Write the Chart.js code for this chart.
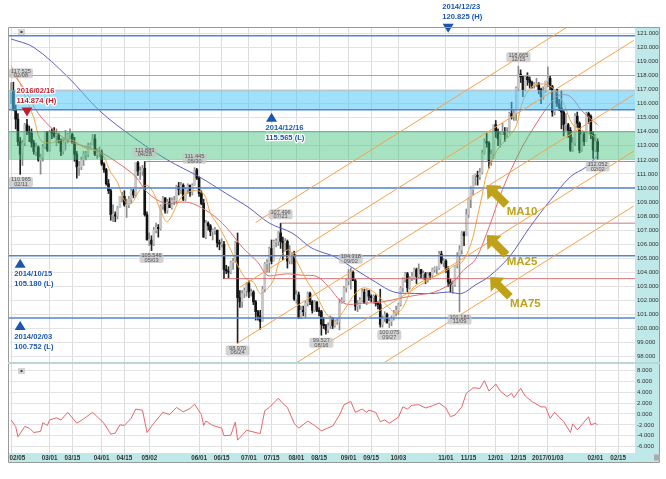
<!DOCTYPE html>
<html>
<head>
<meta charset="utf-8">
<script src="https://cdn.jsdelivr.net/npm/chart.js@4.4.0/dist/chart.umd.min.js"></script>
<style>
  html, body { margin:0; padding:0; background:#fff; }
  #wrap { position:relative; width:666px; height:479px; overflow:hidden; }
  #main { position:absolute; left:0; top:0; }
  #sub  { position:absolute; left:0; top:358px; }
</style>
</head>
<body>
<div id="wrap">
  <canvas id="main" width="666" height="369" style="width:666px;height:369px"></canvas>
  <canvas id="sub" width="666" height="121" style="width:666px;height:121px"></canvas>
</div>
<script>
/* USD/JPY daily candles 2016/02/05 - 2017/02/02, MA10/25/75, deviation panel
   - two stacked charts sharing the same category x axis
   - levels, channel lines and tags drawn by a small plugin from the scales
*/

// x categories: weekdays starting 2016-02-05 (260 candles + empty space on the right)
const SLOTS = 276;
const days = [];
for (let t = Date.UTC(2016, 1, 5); days.length < SLOTS; t += 864e5) {
  const wd = new Date(t).getUTCDay();
  if (wd === 0 || wd === 6) continue;
  days.push(new Date(t).toISOString().slice(0, 10));
}

// date gridlines / labels (index into days)
const tickIdx  = [0,17,27,40,50,61,83,93,105,115,126,136,149,159,171,192,202,214,224,237,258,268];
const tickText = ['02/05','03/01','03/15','04/01','04/15','05/02','06/01','06/15','07/01','07/15','08/01',
                  '08/15','09/01','09/15','10/03','11/01','11/15','12/01','12/15','2017/01/03','02/01','02/15'];
const priceTicks = [98,99,100,101,102,103,104,105,106,107,108,109,110,111,112,113,114,115,116,117,118,119,120,121];
const oscTicks = [-6,-4,-2,0,2,4,6,8];

// OHLC, one value per trading day (10 per row)
const opens = [
116.8,116.9,115.6,114.9,113.3,112.4,113.2,114.5,114.0,113.9,
113.2,112.6,112.9,112.0,112.2,112.9,114.0,112.7,114.0,113.9,
113.7,113.8,113.4,112.6,113.3,113.5,113.8,113.8,113.2,112.4,
111.5,111.5,112.0,112.4,112.4,113.0,113.0,113.5,112.4,112.5,
112.5,111.7,111.3,110.3,109.8,108.1,108.1,108.0,108.6,109.4,
109.4,108.8,108.8,109.2,109.8,109.5,111.8,111.2,111.2,111.4,
108.1,106.3,106.3,106.0,107.0,107.2,107.1,108.7,109.3,108.4,
109.0,108.6,109.1,109.1,110.1,109.9,110.2,109.2,109.9,110.2,
109.7,110.2,111.3,110.7,109.6,108.9,106.5,107.5,107.3,106.9,
107.0,107.0,106.1,106.0,106.0,104.2,104.1,104.0,104.7,104.8,
106.1,102.2,101.9,102.5,102.7,103.2,102.6,102.6,101.9,101.2,
100.9,100.5,102.8,104.6,104.7,105.7,104.8,106.2,106.2,106.8,
106.2,106.1,106.2,104.8,105.2,105.3,102.1,102.4,100.8,101.3,
101.2,101.8,102.5,101.9,101.3,101.9,101.3,101.2,100.3,100.2,
99.9,100.2,100.7,100.2,100.5,100.5,101.8,102.0,102.9,103.4,
103.5,104.0,103.4,101.6,101.7,102.0,102.6,101.8,102.7,102.3,
102.2,102.3,101.8,101.7,100.3,100.7,101.0,100.4,100.5,100.7,
101.1,101.3,101.7,102.9,103.5,103.9,102.9,103.6,103.6,104.2,
103.7,104.2,103.9,103.9,103.5,103.9,103.8,104.2,104.3,104.3,
105.3,104.7,104.8,104.2,103.3,103.1,103.1,104.5,105.2,105.6,
106.8,106.6,108.1,109.2,109.9,110.9,110.9,110.8,111.1,112.5,
113.3,113.2,111.9,112.4,114.5,114.0,113.5,113.8,114.0,113.8,
114.0,115.3,115.1,115.3,117.1,118.1,117.9,117.0,117.9,117.7,
117.5,117.3,117.4,117.4,117.0,116.5,116.9,117.6,117.8,117.2,
115.4,117.0,116.0,115.7,115.4,114.5,114.5,114.1,112.7,113.2,
115.1,114.6,112.7,113.8,113.3,115.3,115.1,113.8,112.7,113.3];
const highs = [
117.5,117.525,115.9,115.3,113.6,113.4,114.6,114.874,114.4,114.2,
113.4,113.2,113.0,112.4,113.1,114.0,114.0,114.1,114.2,114.3,
114.2,113.9,113.5,113.5,114.1,113.9,114.2,113.9,113.6,112.6,
111.9,112.2,112.6,112.6,113.2,113.2,113.8,113.8,112.8,112.9,
112.7,111.8,111.4,110.6,109.9,108.8,108.3,108.7,109.4,109.7,
109.8,109.2,109.4,109.9,109.9,111.8,111.9,111.5,111.6,111.883,
108.3,106.8,106.6,107.2,107.5,107.4,108.8,109.4,109.3,109.2,
109.3,109.3,109.4,110.2,110.4,110.4,110.3,110.0,110.3,110.2,
110.3,111.445,111.4,110.8,109.8,109.2,107.7,107.6,107.4,107.1,
107.2,107.0,106.3,106.4,106.2,104.5,104.4,104.8,105.0,106.2,
106.8,102.7,102.7,102.9,103.3,103.4,102.8,102.7,102.0,101.3,
101.3,103.0,104.7,104.9,105.8,106.3,106.3,106.4,106.9,107.496,
106.5,106.4,106.3,105.9,105.4,105.5,102.7,102.6,101.6,101.6,
102.0,102.6,102.6,102.0,102.0,101.9,101.5,101.3,100.8,100.3,
100.4,100.9,100.8,100.6,100.7,102.1,102.2,103.0,103.5,104.2,
104.318,104.1,103.5,102.0,102.2,102.8,102.8,102.8,102.7,102.4,
102.4,102.4,101.9,102.8,100.9,101.2,101.1,100.7,100.9,101.3,
101.6,101.8,103.0,103.6,104.0,104.0,103.7,104.0,104.3,104.3,
104.6,104.2,104.1,104.0,104.0,104.0,104.3,104.4,104.4,105.5,
105.5,105.0,104.9,104.4,103.5,103.4,104.5,105.4,105.9,106.9,
106.9,108.5,109.3,110.1,110.9,111.0,111.2,111.4,112.7,113.5,
113.9,113.3,112.7,114.5,114.8,114.2,114.0,114.6,114.3,114.3,
115.4,116.1,115.6,117.2,118.665,118.4,118.0,118.0,118.2,117.9,
117.6,117.5,117.8,117.5,117.1,117.2,117.6,118.6,118.0,117.3,
117.0,117.0,116.3,116.9,115.5,115.3,114.6,114.3,113.6,115.3,
115.4,114.7,114.0,114.0,115.4,115.4,115.2,114.0,113.8,113.5];
const lows = [
116.0,115.5,114.2,113.0,110.965,111.6,113.0,113.8,113.3,112.9,
112.4,112.3,111.9,110.98,111.9,112.8,112.6,112.6,113.5,113.6,
113.0,113.2,112.3,112.4,112.7,113.2,113.5,113.2,111.9,110.7,
110.9,111.3,111.6,112.0,112.2,112.9,113.0,112.3,112.1,112.2,
111.6,111.1,110.2,109.6,107.7,107.6,107.6,107.8,108.6,109.0,
108.7,107.9,108.6,108.9,109.3,109.4,110.9,110.6,110.9,108.0,
106.3,105.9,105.546,105.9,106.8,106.5,107.0,108.5,108.2,108.2,
108.6,108.5,108.8,108.9,109.5,109.6,109.1,109.1,109.6,109.4,
109.5,110.2,110.6,109.4,108.8,106.5,106.4,107.0,106.6,106.3,
106.7,105.8,105.6,105.8,103.55,103.9,103.6,103.9,104.2,104.7,
98.97,101.5,101.5,102.2,102.3,102.2,102.3,101.7,100.6,100.6,
99.95,100.5,102.6,104.0,104.0,104.6,104.8,105.8,105.9,105.7,
104.9,105.5,104.3,104.6,104.6,102.0,101.8,100.7,100.7,100.9,
100.8,101.6,101.7,101.1,101.2,101.2,100.9,99.527,100.0,99.6,
99.7,100.0,100.0,100.1,100.3,99.9,101.8,101.9,102.6,103.1,
102.8,103.4,101.3,101.2,101.4,101.9,101.8,101.7,102.0,101.9,
101.8,101.6,101.4,100.1,100.1,100.5,100.4,100.075,100.2,100.6,
100.9,101.0,101.6,102.6,103.3,102.6,102.8,103.4,103.5,103.2,
103.6,103.6,103.5,103.2,103.3,103.5,103.7,104.0,103.9,104.2,
104.6,104.4,104.0,103.0,102.6,102.5,103.0,104.3,101.181,105.3,
105.9,106.6,107.9,108.6,109.5,110.2,110.2,110.6,111.0,112.4,
112.9,111.4,111.6,112.1,113.6,113.0,112.9,113.8,113.3,113.6,
113.9,114.9,114.8,114.8,116.9,117.5,116.5,116.9,117.3,117.1,
117.1,117.1,117.2,116.7,116.0,116.3,116.8,117.2,117.0,115.1,
115.2,115.8,115.5,114.2,113.7,114.1,113.6,112.6,112.6,113.0,
114.3,112.5,112.6,113.0,113.3,114.6,113.5,112.1,112.6,112.052];
const closes = [
116.9,115.6,114.9,113.3,112.4,113.2,114.5,114.0,113.9,113.2,
112.6,112.9,112.0,112.2,112.9,114.0,112.7,114.0,113.9,113.7,
113.8,113.4,112.6,113.3,113.5,113.8,113.8,113.2,112.4,111.5,
111.5,112.0,112.4,112.4,113.0,113.0,113.5,112.4,112.5,112.5,
111.7,111.3,110.3,109.8,108.1,108.1,108.0,108.6,109.4,109.4,
108.8,108.8,109.2,109.8,109.5,111.8,111.2,111.2,111.4,108.1,
106.3,106.3,106.0,107.0,107.2,107.1,108.7,109.3,108.4,109.0,
108.6,109.1,109.1,110.1,109.9,110.2,109.2,109.9,110.2,109.7,
110.2,111.3,110.7,109.6,108.9,106.5,107.5,107.3,106.9,107.0,
107.0,106.1,106.0,106.0,104.2,104.1,104.0,104.7,104.8,106.1,
102.2,101.9,102.5,102.7,103.2,102.6,102.6,101.9,101.2,100.9,
100.5,102.8,104.6,104.7,105.7,104.8,106.2,106.2,106.8,106.2,
106.1,106.2,104.8,105.2,105.3,102.1,102.4,100.8,101.3,101.2,
101.8,102.5,101.9,101.3,101.9,101.3,101.2,100.3,100.2,99.9,
100.2,100.7,100.2,100.5,100.5,101.8,102.0,102.9,103.4,103.5,
104.0,103.4,101.6,101.7,102.0,102.6,101.8,102.7,102.3,102.2,
102.3,101.8,101.7,100.3,100.7,101.0,100.4,100.5,100.7,101.1,
101.3,101.7,102.9,103.5,103.9,102.9,103.6,103.7,104.2,103.7,
104.2,103.9,103.9,103.5,103.9,103.8,104.2,104.3,104.3,105.3,
104.7,104.8,104.2,103.3,103.1,103.1,104.5,105.2,105.6,106.8,
106.6,108.1,109.2,109.9,110.9,110.9,110.8,111.1,112.5,113.3,
113.2,111.9,112.4,114.5,114.0,113.5,113.8,114.0,113.8,114.0,
115.3,115.1,115.3,117.1,118.1,117.9,117.0,117.9,117.7,117.5,
117.3,117.4,117.4,117.0,116.5,116.9,117.6,117.8,117.2,115.4,
117.0,116.0,115.7,115.4,114.5,114.5,114.1,112.7,113.2,115.1,
114.6,112.7,113.8,113.3,115.3,115.1,113.8,112.7,113.3,112.6];

// moving averages (day index -> value)
const ma10Idx = [0,4,7,10,13,17,22,27,32,38,41,44,47,50,53,57,60,63,66,69,75,80,85,88,92,97,101,104,107,110,113,116,119,122,124,128,131,135,139,143,147,152,156,161,165,170,173,177,181,187,193,196,199,203,206,208,210,213,216,220,223,226,230,235,240,244,248,252,256,259];
const ma10    = [118.7,117.4,116.2,115.0,113.4,113.2,113.4,113.4,112.9,112.6,112.2,111.1,110.4,109.1,108.9,109.9,110.2,109.6,108.4,107.6,109.3,109.8,109.6,108.2,107.2,105.6,104.2,103.5,103.3,102.5,102.8,103.5,105.1,105.6,105.4,104.2,103.3,102.3,101.1,100.6,101.3,102.5,102.9,102.5,101.8,101.1,101.5,102.8,103.3,103.7,104.2,104.5,104.7,106.0,108.0,109.5,111.0,112.2,113.0,113.7,114.4,116.2,117.2,117.4,117.0,116.0,114.5,114.1,113.8,113.5];
const ma25Idx = [0,6,12,19,26,34,40,47,55,60,68,75,80,88,95,102,109,113,117,122,128,135,140,147,155,164,173,180,187,195,200,205,211,217,225,232,238,242,247,252,259];
const ma25    = [118.3,117.0,115.3,114.1,113.3,112.9,112.5,111.8,110.8,109.7,108.9,109.0,108.9,108.2,107.2,105.8,104.7,103.8,103.8,103.9,103.8,103.7,103.0,101.8,101.8,101.9,102.2,102.4,102.6,103.3,104.2,104.9,107.2,109.9,112.7,114.6,116.0,116.6,116.5,115.5,114.5];
const ma75Idx = [0,10,25,39,54,69,83,95,105,114,124,132,136,143,152,161,169,178,187,193,199,205,211,220,229,238,247,254,259];
const ma75    = [120.6,120.0,117.9,115.5,113.6,112.0,110.8,109.6,108.6,107.5,106.8,105.8,105.5,105.1,104.2,103.3,102.6,102.5,102.5,102.6,102.5,103.1,103.7,105.1,107.2,109.1,110.8,111.5,112.3];

// lower panel: deviation from MA25 (%)
const oscIdx  = [0,2,3,6,8,10,13,14,16,17,20,22,25,29,32,36,38,41,44,46,48,50,53,55,58,60,63,67,70,73,76,79,81,84,85,86,89,93,94,97,99,100,104,110,112,114,118,120,122,125,127,131,134,137,142,145,147,150,152,155,157,158,161,163,165,167,171,173,175,177,180,183,186,189,192,194,196,199,201,204,207,209,211,214,216,219,221,222,225,227,230,234,236,238,240,244,247,248,250,252,255,256,258,259];
const oscVals = [-1.1,-2.3,-4.2,-2.3,-2.6,-3.4,-3.2,-1.6,-2.1,-1.1,-0.7,-1.1,0.3,-1.7,-0.9,0.3,-0.5,-1.7,-3.7,-3.5,-2.0,-2.1,-0.8,0.9,0.7,-3.4,-1.7,0.3,-0.1,1.2,0.4,1.0,1.8,-0.1,-2.1,-1.3,-2.1,-2.6,-4.0,-3.9,-1.5,-4.8,-3.0,-3.6,0.6,1.2,2.9,1.9,1.2,-1.7,-2.6,-1.3,-2.1,-3.1,-2.2,-0.2,1.7,2.3,0.3,0.9,0.3,0.7,0.3,-1.4,-1.1,-1.7,-0.6,1.3,0.9,1.6,1.7,1.1,1.5,2.0,1.1,-0.5,-0.2,1.3,3.8,4.8,4.7,6.1,4.2,5.5,4.2,3.2,3.8,3.0,4.7,3.3,2.3,1.3,1.3,-0.8,0.3,-1.4,-3.4,-1.8,-2.9,-2.0,-0.5,-2.0,-1.7,-2.0];

// support / resistance levels
const blueLevels = [120.825, 115.565, 110.0, 105.180, 100.752];
const redLevels  = [111.883, 107.496, 103.55];
const redFrom    = [59, 119, 94];
const grayLevels = [118.0];
const blueBand   = [115.565, 116.92];
const greenBand  = [112.0, 114.0];

// parallel channel lines: start (day, price) -> end (day, price)
const chanFrom  = [108, 101, 100, 120, 160];
const chanFromP = [107.55, 102.94, 98.97, 96.96, 97.10];
const chanTo    = [275, 275, 275, 275, 275];
const chanToP   = [124.42, 120.50, 116.65, 112.62, 108.72];

// high / low tags
const tagIdx  = [1,4,59,62,81,100,119,137,150,167,198,224,259];
const tagVal  = [117.525,110.965,111.883,105.546,111.445,98.970,107.496,99.527,104.318,100.075,101.181,118.665,112.052];
const tagDate = ['02/08','02/11','04/28','05/03','05/30','06/24','07/21','08/16','09/02','09/27','11/09','12/15','02/02'];
const tagHigh = [true,false,true,false,true,false,true,false,true,false,false,true,false];

// historic markers
const markIdx  = [193, 7, 115, 4, 4];
const markVal  = [120.825, 114.874, 115.565, 105.180, 100.752];
const markDate = ['2014/12/23','2016/02/16','2014/12/16','2014/10/15','2014/02/03'];
const markHigh = [true, true, false, false, false];

// MA captions with arrows
const maLabels = ['MA10','MA25','MA75'];
const maArrIdx = [210, 210, 211.5];
const maArrVal = [110.21, 106.65, 103.67];

const STRIP = '#bfe8e8';
const GOLD = '#bfa21a';
Chart.defaults.font.family = 'Liberation Sans';
Chart.defaults.color = '#333';

function sparse(idx, vals) {
  const out = days.map(() => null);
  idx.forEach((k, j) => out[k] = vals[j]);
  return out;
}

const wickData = opens.map((o, i) => [lows[i], highs[i]]);
const bodyData = opens.map((o, i) => {
  const lo = Math.min(o, closes[i]), hi = Math.max(o, closes[i]);
  return hi - lo < 0.05 ? [lo - 0.025, hi + 0.025] : [lo, hi];
});
const isUp = i => closes[i] >= opens[i];

function xAxis(showLabels) {
  return {
    type: 'category', offset: true,
    grid: { color: '#dcdcdc', lineWidth: 1, offset: false, drawTicks: false },
    border: { display: false },
    ticks: {
      display: showLabels, autoSkip: false, maxRotation: 0, minRotation: 0, padding: 1.5,
      color: '#333', font: { size: 6.3, weight: 'bold' },
      // first label is drawn left-aligned by the plugin
      callback: v => v === tickIdx[0] ? '' : tickText[tickIdx.indexOf(v)]
    },
    afterBuildTicks(s) { s.ticks = tickIdx.map(v => ({ value: v })); },
    afterFit(s) { s.height = showLabels ? 9 : 0; }
  };
}

// ---------- main panel ----------
function drawMarker(ctx, xp, yp, high, col, lines, dx) {
  const tip = high ? yp - 3 : yp + 3;
  const base = high ? tip - 9 : tip + 9;
  ctx.fillStyle = col;
  ctx.beginPath();
  ctx.moveTo(xp, tip); ctx.lineTo(xp - 5.5, base); ctx.lineTo(xp + 5.5, base);
  ctx.closePath(); ctx.fill();
  ctx.font = 'bold 7.6px Liberation Sans';
  ctx.textAlign = 'left'; ctx.textBaseline = 'middle';
  const ty = high ? [tip - 26, tip - 16] : [tip + 15.5, tip + 25.5];
  lines.forEach((t, k) => {
    ctx.lineWidth = 2.5; ctx.strokeStyle = '#fff'; ctx.lineJoin = 'round';
    ctx.strokeText(t, xp + dx, ty[k]);
    ctx.fillStyle = col; ctx.fillText(t, xp + dx, ty[k]);
  });
}

function drawArrow(ctx, tx, ty) {
  const s = Math.SQRT1_2;
  const pts = [[0,0],[11,10],[11,4],[28,4],[28,-4],[11,-4],[11,-10]];
  ctx.beginPath();
  pts.forEach(([u, v], k) => {
    const px = tx + (u + v) * s, py = ty + (u - v) * s;
    k ? ctx.lineTo(px, py) : ctx.moveTo(px, py);
  });
  ctx.closePath();
  ctx.fillStyle = GOLD; ctx.fill();
}

const mainOverlay = {
  id: 'mainOverlay',
  beforeDraw(c) {
    const { ctx, chartArea: a } = c;
    ctx.save();
    ctx.fillStyle = STRIP; ctx.fillRect(a.right, a.top, 25, a.bottom - a.top);
    ctx.restore();
  },
  afterDatasetsDraw(c) {
    const { ctx, chartArea: a, scales: { x, y } } = c;
    const L = a.left - 2;
    ctx.save();

    // bands (drawn over candles, semi transparent)
    const band = (lo, hi, fill, edge) => {
      const y1 = y.getPixelForValue(hi), y2 = y.getPixelForValue(lo);
      ctx.fillStyle = fill; ctx.fillRect(L, y1, a.right - L, y2 - y1);
      ctx.strokeStyle = edge; ctx.lineWidth = 1;
      ctx.beginPath(); ctx.moveTo(L, y1); ctx.lineTo(a.right, y1); ctx.stroke();
    };
    band(blueBand[0], blueBand[1], 'rgba(80,200,245,0.55)', 'rgba(150,170,180,0.7)');
    band(greenBand[0], greenBand[1], 'rgba(60,190,120,0.45)', 'rgba(60,160,100,0.8)');

    const hline = (p, x0, col, w) => {
      const yy = y.getPixelForValue(p);
      ctx.strokeStyle = col; ctx.lineWidth = w;
      ctx.beginPath(); ctx.moveTo(x0, yy); ctx.lineTo(a.right, yy); ctx.stroke();
    };
    grayLevels.forEach(p => hline(p, L, '#a9a9a9', 1.2));
    redLevels.forEach((p, k) => hline(p, x.getPixelForValue(redFrom[k]), 'rgba(205,95,95,0.85)', 1));
    blueLevels.forEach(p => hline(p, L, '#5584cf', 1.5));

    // channel lines
    ctx.save();
    ctx.beginPath(); ctx.rect(a.left, a.top, a.right - a.left, a.bottom - a.top); ctx.clip();
    ctx.strokeStyle = '#f6a14c'; ctx.lineWidth = 1;
    chanFrom.forEach((i0, k) => {
      ctx.beginPath();
      ctx.moveTo(x.getPixelForValue(i0), y.getPixelForValue(chanFromP[k]));
      ctx.lineTo(x.getPixelForValue(chanTo[k]), y.getPixelForValue(chanToP[k]));
      ctx.stroke();
    });
    ctx.restore();

    // high / low tags
    tagIdx.forEach((i, k) => {
      const w = 24, h = 10;
      let cx = Math.max(x.getPixelForValue(i), L + w / 2 + 1);
      cx = Math.min(cx, a.right - w / 2 - 1);
      const yp = y.getPixelForValue(tagVal[k]);
      const top = tagHigh[k] ? yp - 4 - h : yp + 2.5;
      ctx.fillStyle = 'rgba(196,196,196,0.75)';
      ctx.beginPath(); ctx.roundRect(cx - w / 2, top, w, h, 2); ctx.fill();
      ctx.fillStyle = '#555'; ctx.font = '5.6px Liberation Sans';
      ctx.textAlign = 'center'; ctx.textBaseline = 'middle';
      ctx.fillText(tagVal[k].toFixed(3), cx, top + 2.8);
      ctx.fillText(tagDate[k], cx, top + 7.4);
    });

    // markers
    markIdx.forEach((i, k) => {
      const high = markHigh[k];
      const red = markDate[k].startsWith('2016');
      drawMarker(ctx, x.getPixelForValue(i), y.getPixelForValue(markVal[k]), high,
        red ? '#c21f2b' : '#1c56ad',
        [markDate[k], markVal[k].toFixed(3) + ' (' + (high ? 'H' : 'L') + ')'],
        red ? -10.5 : -6);
    });

    // MA captions
    maLabels.forEach((t, k) => {
      const tx = x.getPixelForValue(maArrIdx[k]), ty = y.getPixelForValue(maArrVal[k]);
      drawArrow(ctx, tx, ty);
      ctx.fillStyle = GOLD; ctx.font = 'bold 11.5px Liberation Sans';
      ctx.textAlign = 'left'; ctx.textBaseline = 'middle';
      ctx.fillText(t, tx + 20, ty + 27);
    });

    // frame
    ctx.strokeStyle = '#9a9a9a'; ctx.lineWidth = 1;
    ctx.beginPath();
    ctx.moveTo(L + 0.5, a.bottom); ctx.lineTo(L + 0.5, a.top + 0.5);
    ctx.lineTo(a.right + 25 - 0.5, a.top + 0.5); ctx.lineTo(a.right + 25 - 0.5, a.bottom);
    ctx.stroke();
    ctx.fillStyle = '#d4d4d4'; ctx.fillRect(L + 10, a.top + 2, 7, 6);
    ctx.fillStyle = '#444'; ctx.fillRect(L + 12.5, a.top + 4, 2, 2);
    ctx.restore();
  }
};

new Chart(document.getElementById('main'), {
  type: 'bar',
  data: {
    labels: days,
    datasets: [
      { type: 'line', label: 'MA10', data: sparse(ma10Idx, ma10), borderColor: '#f2a445', borderWidth: 1,
        pointRadius: 0, spanGaps: true, tension: 0.35, order: 0 },
      { type: 'line', label: 'MA25', data: sparse(ma25Idx, ma25), borderColor: '#e66a6a', borderWidth: 1,
        pointRadius: 0, spanGaps: true, tension: 0.35, order: 0 },
      { type: 'line', label: 'MA75', data: sparse(ma75Idx, ma75), borderColor: '#5d5fc4', borderWidth: 1,
        pointRadius: 0, spanGaps: true, tension: 0.35, order: 0 },
      { label: 'body', data: bodyData, grouped: false, barThickness: 2, order: 1,
        backgroundColor: c => isUp(c.dataIndex) ? '#c6c6c6' : '#111' },
      { label: 'wick', data: wickData, grouped: false, barThickness: 1, order: 2,
        backgroundColor: c => isUp(c.dataIndex) ? '#8c8c8c' : '#222' }
    ]
  },
  options: {
    responsive: false, animation: false, events: [], devicePixelRatio: 1,
    layout: { padding: { left: 10, right: 6, top: 27, bottom: 6 } },
    plugins: { legend: { display: false }, tooltip: { enabled: false } },
    scales: {
      x: xAxis(false),
      y: {
        position: 'right', min: 97.55, max: 121.45,
        grid: { color: '#e3e3e3', drawTicks: false }, border: { display: false },
        ticks: { padding: 2, color: '#333', font: { size: 6 }, callback: v => v.toFixed(3) },
        afterBuildTicks(s) { s.ticks = priceTicks.map(v => ({ value: v })); },
        afterFit(s) { s.width = 25; }
      }
    }
  },
  plugins: [mainOverlay]
});

// ---------- lower panel ----------
const subOverlay = {
  id: 'subOverlay',
  beforeDraw(c) {
    const { ctx, chartArea: a } = c;
    ctx.save();
    ctx.fillStyle = '#fff'; ctx.fillRect(0, a.top, c.width, c.height - a.top);
    ctx.fillStyle = STRIP;
    ctx.fillRect(a.right, a.top, 25, a.bottom - a.top + 9);
    ctx.fillRect(a.left - 2, a.bottom, a.right - a.left + 27, 9);
    ctx.restore();
  },
  afterDraw(c) {
    const { ctx, chartArea: a, scales: { x } } = c;
    const L = a.left - 2;
    ctx.save();
    ctx.strokeStyle = '#9a9a9a'; ctx.lineWidth = 1;
    ctx.beginPath();
    ctx.moveTo(L + 0.5, a.top); ctx.lineTo(L + 0.5, a.bottom + 9.5);
    ctx.lineTo(a.right + 25 - 0.5, a.bottom + 9.5); ctx.lineTo(a.right + 25 - 0.5, a.top);
    ctx.stroke();
    // panel separator
    ctx.strokeStyle = '#bcd5d5'; ctx.lineWidth = 2;
    ctx.beginPath(); ctx.moveTo(L, a.top - 1); ctx.lineTo(a.right + 25, a.top - 1); ctx.stroke();
    ctx.fillStyle = '#d4d4d4'; ctx.fillRect(L + 10, a.top + 4, 7, 6);
    ctx.fillStyle = '#444'; ctx.fillRect(L + 12.5, a.top + 6, 2, 2);
    ctx.fillStyle = '#aaa'; ctx.fillRect(a.right + 19, a.bottom + 1.5, 6, 6);
    // first date label, kept inside the frame
    ctx.fillStyle = '#333'; ctx.font = 'bold 6.3px Liberation Sans';
    ctx.textAlign = 'left'; ctx.textBaseline = 'middle';
    ctx.fillText(tickText[0], Math.max(L + 1.5, x.getPixelForValue(tickIdx[0]) - 8), a.bottom + 5);
    ctx.restore();
  }
};

new Chart(document.getElementById('sub'), {
  type: 'line',
  data: {
    labels: days,
    datasets: [
      { label: 'dev', data: sparse(oscIdx, oscVals), borderColor: '#e5676b', borderWidth: 1,
        pointRadius: 0, spanGaps: true, tension: 0 }
    ]
  },
  options: {
    responsive: false, animation: false, events: [], devicePixelRatio: 1,
    layout: { padding: { left: 10, right: 6, top: 6, bottom: 17 } },
    plugins: { legend: { display: false }, tooltip: { enabled: false } },
    scales: {
      x: xAxis(true),
      y: {
        position: 'right', min: -7.16, max: 9.17,
        grid: { color: '#e3e3e3', drawTicks: false }, border: { display: false },
        ticks: { padding: 2, color: '#333', font: { size: 6 }, callback: v => v.toFixed(3) },
        afterBuildTicks(s) { s.ticks = oscTicks.map(v => ({ value: v })); },
        afterFit(s) { s.width = 25; }
      }
    }
  },
  plugins: [subOverlay]
});
</script>
</body>
</html>
